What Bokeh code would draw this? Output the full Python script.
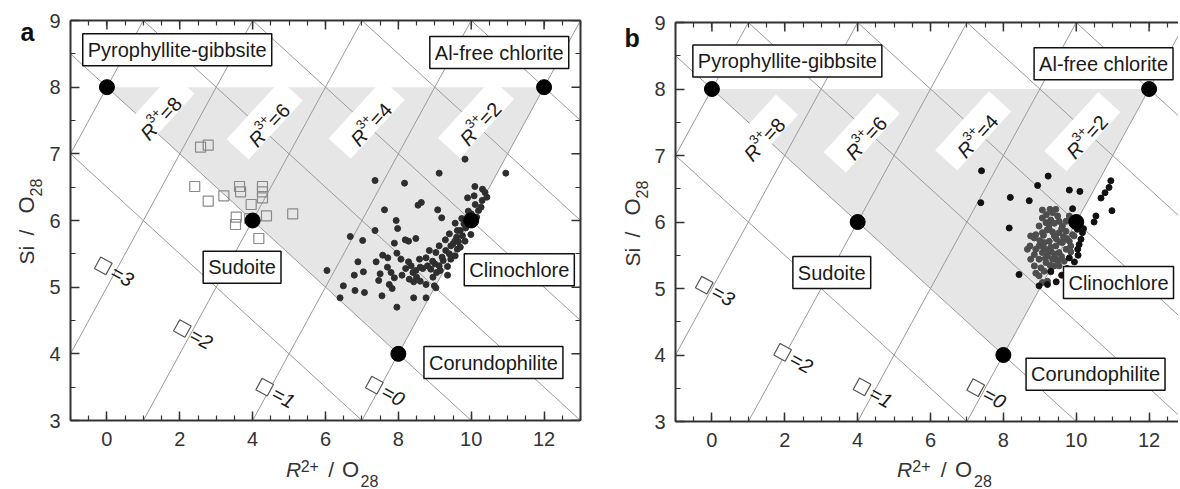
import math
from bokeh.plotting import figure
from bokeh.layouts import row, column
from bokeh.models import Label, LinearAxis, FixedTicker, Range1d
from bokeh.embed import file_html
from bokeh.resources import INLINE

FONT = "Liberation Sans"

# ---------------- data ----------------
end_names = ["Pyrophyllite-gibbsite", "Al-free chlorite", "Sudoite", "Clinochlore", "Corundophilite"]
end_r2 = [0, 12, 4, 10, 8]
end_si = [8, 8, 6, 6, 4]
field_r2 = [0, 12, 8]
field_si = [8, 8, 4]
r3_lines = [10, 8, 6, 4, 2, 0]      # total R3+ isolines
vac_lines = [0, 1, 2, 3, 4]         # vacancy isolines
r3_labels = [8, 6, 4, 2]
vac_labels = [3, 2, 1, 0]
x_ticks = [0, 2, 4, 6, 8, 10, 12]
y_ticks = [3, 4, 5, 6, 7, 8, 9]

a_filled = [(9.83,6.92),(10.95,6.71),(9.12,6.71),(7.36,6.60),(8.17,6.56),(10.10,6.51),(10.31,6.47),
            (10.43,6.35),(9.90,6.34),(10.08,6.37),(8.54,6.23),(8.63,6.27),(7.62,6.16),(9.08,6.16),
            (10.11,6.24),(10.27,6.20),(9.92,6.14),(9.19,6.04),(7.94,6.00),(9.74,6.03),(9.56,5.96),
            (7.98,5.88),(7.36,5.85),(6.68,5.76),(7.02,5.70),(8.19,5.71),(8.28,5.69),(8.48,5.73),
            (9.40,5.80),(7.89,5.66),(9.62,5.85),(9.85,5.89),(9.99,5.79),(9.29,5.71),(9.76,5.77),
            (9.55,5.69),(9.83,5.69),(9.12,5.62),(9.44,5.62),(9.62,5.57),(8.85,5.55),(9.03,5.52),
            (7.96,5.51),(7.57,5.48),(7.71,5.44),(8.07,5.42),(8.28,5.38),(8.58,5.42),(8.76,5.44),
            (8.94,5.39),(9.23,5.40),(9.44,5.42),(9.56,5.47),(9.35,5.31),(9.12,5.32),(8.67,5.28),
            (8.48,5.25),(8.35,5.32),(8.89,5.27),(9.05,5.22),(9.35,5.18),(6.89,5.38),(7.39,5.38),
            (7.04,5.23),(6.79,5.18),(6.04,5.25),(7.80,5.22),(7.89,5.14),(7.46,5.10),(8.42,5.08),
            (8.60,5.09),(8.76,5.04),(8.99,5.02),(7.75,5.04),(6.49,5.02),(6.81,4.95),(7.07,4.92),
            (7.83,4.98),(7.55,4.87),(8.76,4.84),(8.42,4.84),(6.40,4.84),(7.96,4.70),(9.03,4.99),
            (9.60,5.75),(9.70,5.85),(9.80,5.95),(9.90,6.05),(10.00,6.10),(10.05,5.95),(9.50,5.65),
            (9.30,5.55),(9.20,5.45),(9.00,5.35),(8.80,5.32),(8.60,5.30),(8.40,5.22),(8.20,5.28),
            (8.50,5.15),(9.40,5.50),(9.65,5.68),(10.15,6.05),(10.20,6.15),(10.30,6.30),(10.38,6.42),
            (9.95,5.98),(9.70,5.60),(9.15,5.25),(8.95,5.15),(8.30,5.12),(8.10,5.18),(7.70,5.30),
            (7.50,5.20)]
a_open = [(2.57,7.10),(2.78,7.13),(2.41,6.51),(2.78,6.29),(3.21,6.37),(3.64,6.51),(3.67,6.43),
          (4.27,6.51),(4.27,6.43),(4.27,6.34),(3.96,6.24),(3.55,6.05),(3.53,5.94),(3.92,6.03),
          (4.38,6.07),(5.10,6.10),(4.17,5.73)]
b_grey = [(9.94,5.79),(9.85,5.64),(9.72,5.59),(9.53,5.54),(9.44,5.44),(9.40,5.34),(9.30,5.25),
          (9.21,5.11),(9.07,5.09),(8.98,5.19),(8.89,5.23),(8.85,5.34),(8.75,5.44),(8.66,5.59),
          (8.73,5.64),(8.85,5.76),(8.89,5.81),(9.07,5.84),(9.26,5.89),(9.17,5.99),(9.07,6.06),
          (9.18,6.11),(9.35,6.14),(9.49,6.09),(9.53,6.01),(9.62,5.94),(9.72,5.86),(9.53,5.84),
          (9.40,5.79),(9.26,5.71),(9.12,5.69),(8.98,5.64),(8.89,5.59),(9.07,5.54),(9.21,5.49),
          (9.30,5.56),(9.44,5.64),(9.62,5.69),(9.81,5.71),(9.90,5.81),(9.72,6.01),(9.81,6.09),
          (9.35,5.44),(9.17,5.39),(9.03,5.31),(9.12,5.26),(9.53,5.34),(9.67,5.41),(8.98,5.44),
          (8.85,5.51),(8.75,5.79),(8.98,5.94),(9.30,6.03),(9.44,6.19),(9.25,5.95),(9.35,5.85),
          (9.45,5.75),(9.55,5.70),(9.65,5.78),(9.30,5.62),(9.20,5.58),(9.10,5.62),(9.40,5.52),
          (9.60,5.48),(9.50,5.42),(9.28,5.35),(9.15,5.45),(9.00,5.72),(9.10,5.80),(9.20,5.88),
          (9.40,5.98),(9.60,5.90),(9.75,5.75),(9.85,5.55),(9.07,6.18),(9.28,6.19)]
b_black = [(7.40,6.77),(9.23,6.69),(10.95,6.62),(10.90,6.52),(10.79,6.44),(10.68,6.36),(8.94,6.55),
           (9.81,6.48),(10.10,6.46),(7.38,6.29),(8.19,6.37),(8.71,6.32),(10.98,6.17),(10.54,6.09),
           (10.49,6.00),(8.16,5.91),(9.90,6.20),(8.43,5.21),(8.98,5.04),(9.81,5.46),(10.04,5.59),
           (10.13,5.74),(10.03,5.89),(10.17,5.84),(10.08,5.66),(9.94,6.04),(9.99,5.96),(10.10,5.95),
           (10.05,5.50),(9.95,5.40),(9.75,5.30),(9.60,5.20),(9.45,5.10),(10.20,5.90),(9.21,5.06),
           (9.30,5.26)]

# ---------------- layout constants (pixels) ----------------
STRIP_H = 34
PANELS = {
    "a": dict(lw=43, bl=27, br=17, bt=20, bb=35, fw=510, fh=400, xend=13.0, right_axis=True,
              names=[(1.93,8.56),(10.77,8.52),(3.71,5.30),(11.32,5.26),(10.61,3.87)],
              r3pos=[(1.36,7.61),(4.33,7.51),(7.13,7.52),(10.13,7.53)],
              vacpos=[(-0.10,5.32),(2.07,4.38),(4.33,3.50),(7.34,3.53)],
              xt_base=20, xt_left=234,
              yt=dict(x=26, si=225, sl=254, o=276, sub=293),
              let_x=20, let_y=458),
    "b": dict(lw=52, bl=26, br=0, bt=22, bb=34, fw=503, fh=399, xend=12.807, right_axis=False,
              names=[(2.07,8.42),(10.75,8.38),(3.29,5.24),(11.16,5.09),(10.53,3.71)],
              r3pos=[(1.32,7.32),(4.11,7.34),(7.17,7.37),(10.17,7.36)],
              vacpos=[(-0.21,5.05),(1.94,4.04),(4.12,3.52),(7.24,3.51)],
              xt_base=20, xt_left=233,
              yt=dict(x=35, si=223, sl=252, o=274, sub=291),
              let_x=27, let_y=452),
}


def blank(w, h):
    f = figure(width=w, height=h, x_range=Range1d(0, w), y_range=Range1d(0, h),
               output_backend="svg", toolbar_location=None, min_border=0,
               x_axis_location=None, y_axis_location=None)
    f.outline_line_color = None
    f.xgrid.visible = False
    f.ygrid.visible = False
    return f


def lab(f, x, y, text, size, style="normal", angle=0.0, color="#333333"):
    f.add_layout(Label(x=x, y=y, text=text, angle=angle, text_font=FONT,
                       text_font_size=f"{size}px", text_font_style=style, text_color=color,
                       text_align="left", text_baseline="alphabetic"))


def make_panel(letter, filled_sets, open_pts):
    c = PANELS[letter]
    x0, x1, y0, y1 = -1.0, c["xend"], 3.0, 9.0
    sx = c["fw"] / (x1 - x0)
    sy = c["fh"] / (y1 - y0)
    p = figure(frame_width=c["fw"], frame_height=c["fh"],
               x_range=Range1d(x0, x1), y_range=Range1d(y0, y1),
               output_backend="svg", toolbar_location=None,
               min_border_left=c["bl"], min_border_right=c["br"],
               min_border_top=c["bt"], min_border_bottom=c["bb"],
               x_axis_location=None, y_axis_location=None)
    p.outline_line_color = None
    p.xgrid.visible = False
    p.ygrid.visible = False

    half_x = [x0 + 0.5 * k for k in range(int((x1 - x0) / 0.5) + 1)]
    half_y = [3 + 0.5 * k for k in range(13)]

    def style(ax, labels):
        ax.axis_line_color = "#333333"
        ax.axis_line_width = 2
        ax.major_tick_line_color = "#333333"
        ax.minor_tick_line_color = "#333333"
        ax.major_tick_line_width = 1.5
        ax.minor_tick_line_width = 1.2
        ax.major_tick_in = 9
        ax.major_tick_out = 0
        ax.minor_tick_in = 5
        ax.minor_tick_out = 0
        ax.major_label_standoff = 0
        if labels:
            ax.major_label_text_font = FONT
            ax.major_label_text_font_size = "20px"
            ax.major_label_text_color = "#333333"

    bx = LinearAxis(ticker=FixedTicker(ticks=x_ticks, minor_ticks=half_x)); style(bx, True)
    bx.major_label_standoff = 11
    lx = LinearAxis(ticker=FixedTicker(ticks=y_ticks, minor_ticks=half_y)); style(lx, True)
    lx.major_label_standoff = 10
    tx = LinearAxis(ticker=FixedTicker(ticks=[], minor_ticks=half_x)); style(tx, False)
    p.add_layout(bx, "below")
    p.add_layout(lx, "left")
    p.add_layout(tx, "above")
    p.segment(x_ticks, [y1] * len(x_ticks), x_ticks, [y1 - 9 / sy] * len(x_ticks),
              line_color="#333333", line_width=1.5)
    if c["right_axis"]:
        rx = LinearAxis(ticker=FixedTicker(ticks=[], minor_ticks=half_y)); style(rx, False)
        p.add_layout(rx, "right")
        p.segment([x1] * len(y_ticks), y_ticks, [x1 - 9 / sx] * len(y_ticks), y_ticks,
                  line_color="#333333", line_width=1.5)

    # shaded chlorite field
    p.patch(field_r2, field_si, fill_color="#e6e6e6", line_color=None)

    # isolines
    xs_line = [-2.0, 14.0]
    p.multi_line([xs_line for _ in r3_lines],
                 [[14 - 0.75 * t - 0.5 * xv for xv in xs_line] for t in r3_lines],
                 line_color="#9a9a9a", line_width=1)
    p.multi_line([xs_line for _ in vac_lines],
                 [[xv - 4 + 3 * v for xv in xs_line] for v in vac_lines],
                 line_color="#9a9a9a", line_width=1)

    ang_r3 = math.atan(sx / (0.5 * sy))
    ang_vac = -math.atan(sx / sy)

    def put(xd, yd, along, perp, ang, text, size, fstyle="normal", baseline="alphabetic"):
        ux, uy = math.cos(ang), math.sin(ang)
        nx, ny = -math.sin(ang), math.cos(ang)
        dx = along * ux + perp * nx
        dy = along * uy + perp * ny
        p.add_layout(Label(x=xd + dx / sx, y=yd + dy / sy, text=text, angle=ang,
                           text_font=FONT, text_font_size=f"{size}px", text_font_style=fstyle,
                           text_align="left", text_baseline=baseline, text_color="#1a1a1a"))

    rx_, ry_ = zip(*c["r3pos"])
    p.rect(list(rx_), list(ry_), width=80, height=30, angle=ang_r3,
           width_units="screen", height_units="screen", fill_color="white", line_color=None)

    vx_, vy_ = zip(*c["vacpos"])
    p.scatter(list(vx_), list(vy_), marker="square", size=13, angle=ang_vac,
              fill_color="white", line_color="#555555", line_width=1.2)

    if open_pts:
        ox, oy = zip(*open_pts)
        p.scatter(list(ox), list(oy), marker="square", size=10, fill_color=None,
                  line_color="#8a8a8a", line_width=1.2)
    for pts, col in filled_sets:
        fxs, fys = zip(*pts)
        p.scatter(list(fxs), list(fys), marker="circle", size=6, fill_color=col, line_color=col)

    p.scatter(end_r2, end_si, marker="circle", size=15, fill_color="black", line_color="black")

    for (cx, cy), val in zip(c["r3pos"], r3_labels):
        put(cx, cy, -26, -7, ang_r3, "R", 20, "italic")
        put(cx, cy, -11.5, 1, ang_r3, "3+", 13)
        put(cx, cy, 1.5, -7, ang_r3, f"={val}", 20)

    for (cx, cy), val in zip(c["vacpos"], vac_labels):
        put(cx, cy, 10, 0, ang_vac, f"={val}", 20, "italic", baseline="middle")

    for (cx, cy), name in zip(c["names"], end_names):
        p.add_layout(Label(x=cx, y=cy, text=name, text_font=FONT, text_font_size="20px",
                           text_color="#1a1a1a", text_align="center", text_baseline="middle",
                           background_fill_color="white", border_line_color="#111111",
                           border_line_width=1.5, padding=5))

    main_w = c["bl"] + c["fw"] + c["br"]
    main_h = c["bt"] + c["fh"] + c["bb"]

    # x-axis title strip
    bs = blank(main_w, STRIP_H)
    b0, l0 = c["xt_base"], c["xt_left"]
    lab(bs, l0, b0, "R", 21, "italic")
    lab(bs, l0 + 16, b0 + 4, "2+", 16)
    lab(bs, l0 + 46, b0, "/", 21)
    lab(bs, l0 + 61, b0, "O", 22)
    lab(bs, l0 + 81, b0 - 11, "28", 16)

    # y-axis title + panel letter strip
    ls = blank(c["lw"], main_h + STRIP_H)
    yt = c["yt"]
    lab(ls, yt["x"], yt["si"], "Si", 21, angle=math.pi / 2)
    lab(ls, yt["x"], yt["sl"], "/", 21, angle=math.pi / 2)
    lab(ls, yt["x"], yt["o"], "O", 22, angle=math.pi / 2)
    lab(ls, yt["x"] + 9, yt["sub"], "28", 16, angle=math.pi / 2)
    lab(ls, c["let_x"], c["let_y"], letter, 25, "bold", color="#111111")

    return row(ls, column(p, bs))


pa = make_panel("a", [(a_filled, "#2e2e2e")], a_open)
pb = make_panel("b", [(b_grey, "#4d4d4d"), (b_black, "#111111")], None)

layout = row(pa, pb)
open("out.html", "w").write(file_html(layout, INLINE))
